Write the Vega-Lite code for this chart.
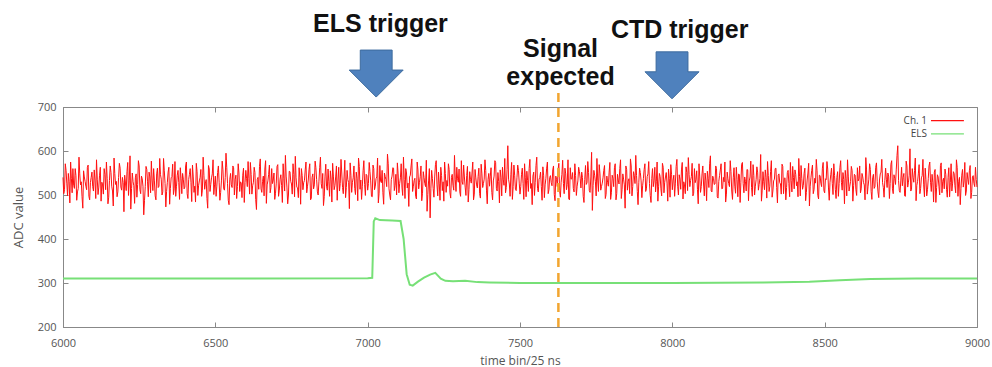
{
  "$schema": "https://vega.github.io/schema/vega-lite/v6.json",
  "autosize": {"type": "none"},
  "padding": {"left": 63, "top": 107, "right": 15, "bottom": 40},
  "width": 914,
  "height": 220,
  "background": "white",
  "config": {
    "view": {"stroke": "#888", "strokeWidth": 1},
    "axis": {
      "grid": false,
      "labelFont": "Open Sans",
      "labelFontSize": 11,
      "labelColor": "#555",
      "titleFont": "Open Sans",
      "titleFontSize": 12,
      "titleFontWeight": "normal",
      "titleColor": "#555",
      "domainColor": "#888",
      "tickColor": "#888",
      "labelFlush": false,
      "labelBound": false,
      "labelOverlap": false
    }
  },
  "resolve": {"axis": {"x": "independent", "y": "independent"}},
  "datasets": {
    "noise": [
      {"t":6000,"v":540},{"t":6005,"v":512},{"t":6010,"v":556},{"t":6015,"v":498},{"t":6020,"v":531},{"t":6025,"v":575},{"t":6030,"v":505},{"t":6035,"v":522},{"t":6040,"v":560},{"t":6045,"v":488},{"t":6050,"v":515},{"t":6055,"v":548},{"t":6060,"v":530},{"t":6065,"v":470},{"t":6070,"v":541},{"t":6075,"v":520},{"t":6080,"v":563},{"t":6085,"v":497},{"t":6090,"v":528},{"t":6095,"v":552},
      {"t":6100,"v":509},{"t":6105,"v":534},{"t":6110,"v":580},{"t":6115,"v":501},{"t":6120,"v":545},{"t":6125,"v":486},{"t":6130,"v":523},{"t":6135,"v":560},{"t":6140,"v":512},{"t":6145,"v":538},{"t":6150,"v":495},{"t":6155,"v":566},{"t":6160,"v":520},{"t":6165,"v":475},{"t":6170,"v":549},{"t":6175,"v":531},{"t":6180,"v":507},{"t":6185,"v":572},{"t":6190,"v":518},{"t":6195,"v":540},
      {"t":6200,"v":462},{"t":6205,"v":527},{"t":6210,"v":553},{"t":6215,"v":499},{"t":6220,"v":589},{"t":6225,"v":515},{"t":6230,"v":530},{"t":6235,"v":481},{"t":6240,"v":548},{"t":6245,"v":524},{"t":6250,"v":566},{"t":6255,"v":503},{"t":6260,"v":537},{"t":6265,"v":455},{"t":6270,"v":519},{"t":6275,"v":558},{"t":6280,"v":496},{"t":6285,"v":541},{"t":6290,"v":577},{"t":6295,"v":510},
      {"t":6300,"v":532},{"t":6305,"v":489},{"t":6310,"v":561},{"t":6315,"v":520},{"t":6320,"v":546},{"t":6325,"v":500},{"t":6330,"v":583},{"t":6335,"v":526},{"t":6340,"v":508},{"t":6345,"v":552},{"t":6350,"v":479},{"t":6355,"v":539},{"t":6360,"v":570},{"t":6365,"v":514},{"t":6370,"v":497},{"t":6375,"v":545},{"t":6380,"v":528},{"t":6385,"v":562},{"t":6390,"v":503},{"t":6395,"v":536},
      {"t":6400,"v":518},{"t":6405,"v":575},{"t":6410,"v":492},{"t":6415,"v":547},{"t":6420,"v":529},{"t":6425,"v":568},{"t":6430,"v":506},{"t":6435,"v":484},{"t":6440,"v":553},{"t":6445,"v":521},{"t":6450,"v":540},{"t":6455,"v":497},{"t":6460,"v":586},{"t":6465,"v":513},{"t":6470,"v":535},{"t":6475,"v":470},{"t":6480,"v":559},{"t":6485,"v":524},{"t":6490,"v":548},{"t":6495,"v":501},
      {"t":6500,"v":543},{"t":6505,"v":520},{"t":6510,"v":566},{"t":6515,"v":488},{"t":6520,"v":532},{"t":6525,"v":557},{"t":6530,"v":511},{"t":6535,"v":595},{"t":6540,"v":526},{"t":6545,"v":478},{"t":6550,"v":549},{"t":6555,"v":517},{"t":6560,"v":562},{"t":6565,"v":535},{"t":6570,"v":492},{"t":6575,"v":571},{"t":6580,"v":508},{"t":6585,"v":527},{"t":6590,"v":545},{"t":6595,"v":483},
      {"t":6600,"v":556},{"t":6605,"v":519},{"t":6610,"v":538},{"t":6615,"v":574},{"t":6620,"v":502},{"t":6625,"v":529},{"t":6630,"v":551},{"t":6635,"v":467},{"t":6640,"v":540},{"t":6645,"v":565},{"t":6650,"v":514},{"t":6655,"v":531},{"t":6660,"v":498},{"t":6665,"v":578},{"t":6670,"v":523},{"t":6675,"v":547},{"t":6680,"v":505},{"t":6685,"v":560},{"t":6690,"v":534},{"t":6695,"v":490},
      {"t":6700,"v":527},{"t":6705,"v":569},{"t":6710,"v":511},{"t":6715,"v":546},{"t":6720,"v":483},{"t":6725,"v":537},{"t":6730,"v":590},{"t":6735,"v":518},{"t":6740,"v":500},{"t":6745,"v":553},{"t":6750,"v":525},{"t":6755,"v":571},{"t":6760,"v":496},{"t":6765,"v":539},{"t":6770,"v":516},{"t":6775,"v":562},{"t":6780,"v":479},{"t":6785,"v":544},{"t":6790,"v":528},{"t":6795,"v":557},
      {"t":6800,"v":505},{"t":6805,"v":534},{"t":6810,"v":571},{"t":6815,"v":492},{"t":6820,"v":548},{"t":6825,"v":523},{"t":6830,"v":562},{"t":6835,"v":507},{"t":6840,"v":530},{"t":6845,"v":586},{"t":6850,"v":515},{"t":6855,"v":476},{"t":6860,"v":543},{"t":6865,"v":520},{"t":6870,"v":559},{"t":6875,"v":497},{"t":6880,"v":536},{"t":6885,"v":572},{"t":6890,"v":512},{"t":6895,"v":541},
      {"t":6900,"v":488},{"t":6905,"v":563},{"t":6910,"v":526},{"t":6915,"v":550},{"t":6920,"v":503},{"t":6925,"v":579},{"t":6930,"v":517},{"t":6935,"v":535},{"t":6940,"v":469},{"t":6945,"v":545},{"t":6950,"v":529},{"t":6955,"v":566},{"t":6960,"v":501},{"t":6965,"v":538},{"t":6970,"v":584},{"t":6975,"v":513},{"t":6980,"v":490},{"t":6985,"v":555},{"t":6990,"v":524},{"t":6995,"v":547},
      {"t":7000,"v":511},{"t":7005,"v":574},{"t":7010,"v":532},{"t":7015,"v":496},{"t":7020,"v":560},{"t":7025,"v":520},{"t":7030,"v":541},{"t":7035,"v":482},{"t":7040,"v":567},{"t":7045,"v":528},{"t":7050,"v":505},{"t":7055,"v":550},{"t":7060,"v":535},{"t":7065,"v":593},{"t":7070,"v":514},{"t":7075,"v":489},{"t":7080,"v":543},{"t":7085,"v":561},{"t":7090,"v":522},{"t":7095,"v":500},
      {"t":7100,"v":548},{"t":7105,"v":526},{"t":7110,"v":571},{"t":7115,"v":499},{"t":7120,"v":535},{"t":7125,"v":560},{"t":7130,"v":516},{"t":7135,"v":474},{"t":7140,"v":545},{"t":7145,"v":582},{"t":7150,"v":520},{"t":7155,"v":538},{"t":7160,"v":491},{"t":7165,"v":557},{"t":7170,"v":529},{"t":7175,"v":566},{"t":7180,"v":504},{"t":7185,"v":540},{"t":7190,"v":519},{"t":7195,"v":463},
      {"t":7200,"v":532},{"t":7205,"v":448},{"t":7210,"v":556},{"t":7215,"v":515},{"t":7220,"v":541},{"t":7225,"v":578},{"t":7230,"v":498},{"t":7235,"v":527},{"t":7240,"v":563},{"t":7245,"v":510},{"t":7250,"v":486},{"t":7255,"v":549},{"t":7260,"v":533},{"t":7265,"v":571},{"t":7270,"v":505},{"t":7275,"v":540},{"t":7280,"v":522},{"t":7285,"v":590},{"t":7290,"v":508},{"t":7295,"v":537},
      {"t":7300,"v":559},{"t":7305,"v":497},{"t":7310,"v":530},{"t":7315,"v":568},{"t":7320,"v":518},{"t":7325,"v":544},{"t":7330,"v":484},{"t":7335,"v":553},{"t":7340,"v":527},{"t":7345,"v":575},{"t":7350,"v":502},{"t":7355,"v":539},{"t":7360,"v":516},{"t":7365,"v":561},{"t":7370,"v":493},{"t":7375,"v":548},{"t":7380,"v":526},{"t":7385,"v":580},{"t":7390,"v":511},{"t":7395,"v":535},
      {"t":7400,"v":520},{"t":7405,"v":562},{"t":7410,"v":489},{"t":7415,"v":543},{"t":7420,"v":574},{"t":7425,"v":509},{"t":7430,"v":531},{"t":7435,"v":557},{"t":7440,"v":498},{"t":7445,"v":536},{"t":7450,"v":583},{"t":7455,"v":517},{"t":7460,"v":612},{"t":7465,"v":525},{"t":7470,"v":546},{"t":7475,"v":490},{"t":7480,"v":568},{"t":7485,"v":513},{"t":7490,"v":539},{"t":7495,"v":556},
      {"t":7500,"v":502},{"t":7505,"v":547},{"t":7510,"v":526},{"t":7515,"v":571},{"t":7520,"v":496},{"t":7525,"v":533},{"t":7530,"v":560},{"t":7535,"v":515},{"t":7540,"v":478},{"t":7545,"v":552},{"t":7550,"v":529},{"t":7555,"v":586},{"t":7560,"v":507},{"t":7565,"v":540},{"t":7570,"v":519},{"t":7575,"v":564},{"t":7580,"v":494},{"t":7585,"v":538},{"t":7590,"v":575},{"t":7595,"v":512},
      {"t":7600,"v":544},{"t":7605,"v":521},{"t":7610,"v":566},{"t":7615,"v":487},{"t":7620,"v":535},{"t":7625,"v":558},{"t":7630,"v":510},{"t":7635,"v":529},{"t":7640,"v":579},{"t":7645,"v":503},{"t":7650,"v":548},{"t":7655,"v":524},{"t":7660,"v":491},{"t":7665,"v":562},{"t":7670,"v":537},{"t":7675,"v":515},{"t":7680,"v":571},{"t":7685,"v":499},{"t":7690,"v":532},{"t":7695,"v":553},
      {"t":7700,"v":516},{"t":7705,"v":540},{"t":7710,"v":483},{"t":7715,"v":567},{"t":7720,"v":528},{"t":7725,"v":551},{"t":7730,"v":506},{"t":7735,"v":597},{"t":7740,"v":522},{"t":7745,"v":545},{"t":7750,"v":498},{"t":7755,"v":534},{"t":7760,"v":569},{"t":7765,"v":511},{"t":7770,"v":527},{"t":7775,"v":556},{"t":7780,"v":492},{"t":7785,"v":543},{"t":7790,"v":520},{"t":7795,"v":574},
      {"t":7800,"v":505},{"t":7805,"v":538},{"t":7810,"v":562},{"t":7815,"v":489},{"t":7820,"v":547},{"t":7825,"v":525},{"t":7830,"v":580},{"t":7835,"v":512},{"t":7840,"v":536},{"t":7845,"v":470},{"t":7850,"v":558},{"t":7855,"v":531},{"t":7860,"v":503},{"t":7865,"v":566},{"t":7870,"v":519},{"t":7875,"v":544},{"t":7880,"v":590},{"t":7885,"v":508},{"t":7890,"v":529},{"t":7895,"v":551},
      {"t":7900,"v":494},{"t":7905,"v":537},{"t":7910,"v":571},{"t":7915,"v":514},{"t":7920,"v":548},{"t":7925,"v":526},{"t":7930,"v":483},{"t":7935,"v":560},{"t":7940,"v":533},{"t":7945,"v":507},{"t":7950,"v":575},{"t":7955,"v":520},{"t":7960,"v":542},{"t":7965,"v":498},{"t":7970,"v":563},{"t":7975,"v":529},{"t":7980,"v":551},{"t":7985,"v":486},{"t":7990,"v":538},{"t":7995,"v":569},
      {"t":8000,"v":512},{"t":8005,"v":545},{"t":8010,"v":527},{"t":8015,"v":581},{"t":8020,"v":500},{"t":8025,"v":536},{"t":8030,"v":557},{"t":8035,"v":491},{"t":8040,"v":523},{"t":8045,"v":564},{"t":8050,"v":510},{"t":8055,"v":547},{"t":8060,"v":533},{"t":8065,"v":572},{"t":8070,"v":504},{"t":8075,"v":528},{"t":8080,"v":555},{"t":8085,"v":480},{"t":8090,"v":541},{"t":8095,"v":519},
      {"t":8100,"v":566},{"t":8105,"v":498},{"t":8110,"v":532},{"t":8115,"v":554},{"t":8120,"v":517},{"t":8125,"v":589},{"t":8130,"v":507},{"t":8135,"v":538},{"t":8140,"v":525},{"t":8145,"v":560},{"t":8150,"v":493},{"t":8155,"v":544},{"t":8160,"v":571},{"t":8165,"v":515},{"t":8170,"v":530},{"t":8175,"v":484},{"t":8180,"v":552},{"t":8185,"v":526},{"t":8190,"v":578},{"t":8195,"v":509},
      {"t":8200,"v":539},{"t":8205,"v":520},{"t":8210,"v":563},{"t":8215,"v":496},{"t":8220,"v":546},{"t":8225,"v":529},{"t":8230,"v":574},{"t":8235,"v":505},{"t":8240,"v":531},{"t":8245,"v":558},{"t":8250,"v":487},{"t":8255,"v":541},{"t":8260,"v":517},{"t":8265,"v":569},{"t":8270,"v":500},{"t":8275,"v":535},{"t":8280,"v":552},{"t":8285,"v":524},{"t":8290,"v":592},{"t":8295,"v":511},
      {"t":8300,"v":530},{"t":8305,"v":557},{"t":8310,"v":493},{"t":8315,"v":544},{"t":8320,"v":520},{"t":8325,"v":578},{"t":8330,"v":509},{"t":8335,"v":536},{"t":8340,"v":561},{"t":8345,"v":482},{"t":8350,"v":548},{"t":8355,"v":525},{"t":8360,"v":570},{"t":8365,"v":503},{"t":8370,"v":539},{"t":8375,"v":517},{"t":8380,"v":556},{"t":8385,"v":496},{"t":8390,"v":533},{"t":8395,"v":565},
      {"t":8400,"v":514},{"t":8405,"v":547},{"t":8410,"v":530},{"t":8415,"v":583},{"t":8420,"v":498},{"t":8425,"v":537},{"t":8430,"v":522},{"t":8435,"v":561},{"t":8440,"v":506},{"t":8445,"v":550},{"t":8450,"v":475},{"t":8455,"v":539},{"t":8460,"v":568},{"t":8465,"v":512},{"t":8470,"v":527},{"t":8475,"v":555},{"t":8480,"v":491},{"t":8485,"v":544},{"t":8490,"v":519},{"t":8495,"v":574},
      {"t":8500,"v":505},{"t":8505,"v":535},{"t":8510,"v":559},{"t":8515,"v":488},{"t":8520,"v":546},{"t":8525,"v":526},{"t":8530,"v":571},{"t":8535,"v":513},{"t":8540,"v":540},{"t":8545,"v":497},{"t":8550,"v":562},{"t":8555,"v":528},{"t":8560,"v":551},{"t":8565,"v":480},{"t":8570,"v":537},{"t":8575,"v":580},{"t":8580,"v":509},{"t":8585,"v":531},{"t":8590,"v":556},{"t":8595,"v":521},
      {"t":8600,"v":545},{"t":8605,"v":499},{"t":8610,"v":532},{"t":8615,"v":566},{"t":8620,"v":514},{"t":8625,"v":541},{"t":8630,"v":523},{"t":8635,"v":585},{"t":8640,"v":502},{"t":8645,"v":536},{"t":8650,"v":558},{"t":8655,"v":490},{"t":8660,"v":547},{"t":8665,"v":519},{"t":8670,"v":573},{"t":8675,"v":507},{"t":8680,"v":534},{"t":8685,"v":552},{"t":8690,"v":528},{"t":8695,"v":495},
      {"t":8700,"v":561},{"t":8705,"v":517},{"t":8710,"v":543},{"t":8715,"v":526},{"t":8720,"v":578},{"t":8725,"v":503},{"t":8730,"v":538},{"t":8735,"v":557},{"t":8740,"v":612},{"t":8745,"v":510},{"t":8750,"v":534},{"t":8755,"v":521},{"t":8760,"v":549},{"t":8765,"v":497},{"t":8770,"v":566},{"t":8775,"v":529},{"t":8780,"v":605},{"t":8785,"v":512},{"t":8790,"v":540},{"t":8795,"v":556},
      {"t":8800,"v":487},{"t":8805,"v":531},{"t":8810,"v":569},{"t":8815,"v":515},{"t":8820,"v":544},{"t":8825,"v":523},{"t":8830,"v":561},{"t":8835,"v":498},{"t":8840,"v":537},{"t":8845,"v":575},{"t":8850,"v":508},{"t":8855,"v":529},{"t":8860,"v":552},{"t":8865,"v":483},{"t":8870,"v":546},{"t":8875,"v":520},{"t":8880,"v":567},{"t":8885,"v":505},{"t":8890,"v":538},{"t":8895,"v":559},
      {"t":8900,"v":513},{"t":8905,"v":540},{"t":8910,"v":496},{"t":8915,"v":571},{"t":8920,"v":527},{"t":8925,"v":549},{"t":8930,"v":505},{"t":8935,"v":562},{"t":8940,"v":531},{"t":8945,"v":478},{"t":8950,"v":545},{"t":8955,"v":518},{"t":8960,"v":574},{"t":8965,"v":509},{"t":8970,"v":536},{"t":8975,"v":555},{"t":8980,"v":492},{"t":8985,"v":541},{"t":8990,"v":526},{"t":8995,"v":563},
      {"t":9000,"v":518},
      {"t":6002.5,"v":503},{"t":6007.5,"v":571},{"t":6012.5,"v":527},{"t":6017.5,"v":549},{"t":6022.5,"v":482},{"t":6027.5,"v":538},{"t":6032.5,"v":560},{"t":6037.5,"v":515},{"t":6042.5,"v":544},{"t":6047.5,"v":507},{"t":6052.5,"v":586},{"t":6057.5,"v":523},{"t":6062.5,"v":496},{"t":6067.5,"v":555},{"t":6072.5,"v":531},{"t":6077.5,"v":512},{"t":6082.5,"v":568},{"t":6087.5,"v":489},{"t":6092.5,"v":540},{"t":6097.5,"v":519},
      {"t":6102.5,"v":557},{"t":6107.5,"v":492},{"t":6112.5,"v":536},{"t":6117.5,"v":518},{"t":6122.5,"v":563},{"t":6127.5,"v":529},{"t":6132.5,"v":502},{"t":6137.5,"v":547},{"t":6142.5,"v":575},{"t":6147.5,"v":480},{"t":6152.5,"v":533},{"t":6157.5,"v":551},{"t":6162.5,"v":509},{"t":6167.5,"v":584},{"t":6172.5,"v":524},{"t":6177.5,"v":496},{"t":6182.5,"v":540},{"t":6187.5,"v":561},{"t":6192.5,"v":511},{"t":6197.5,"v":528},
      {"t":6202.5,"v":545},{"t":6207.5,"v":510},{"t":6212.5,"v":574},{"t":6217.5,"v":532},{"t":6222.5,"v":468},{"t":6227.5,"v":550},{"t":6232.5,"v":521},{"t":6237.5,"v":539},{"t":6242.5,"v":495},{"t":6247.5,"v":578},{"t":6252.5,"v":512},{"t":6257.5,"v":543},{"t":6262.5,"v":520},{"t":6267.5,"v":487},{"t":6272.5,"v":565},{"t":6277.5,"v":530},{"t":6282.5,"v":552},{"t":6287.5,"v":505},{"t":6292.5,"v":534},{"t":6297.5,"v":560},
      {"t":6302.5,"v":498},{"t":6307.5,"v":548},{"t":6312.5,"v":517},{"t":6317.5,"v":583},{"t":6322.5,"v":536},{"t":6327.5,"v":507},{"t":6332.5,"v":555},{"t":6337.5,"v":473},{"t":6342.5,"v":529},{"t":6347.5,"v":563},{"t":6352.5,"v":515},{"t":6357.5,"v":542},{"t":6362.5,"v":501},{"t":6367.5,"v":576},{"t":6372.5,"v":520},{"t":6377.5,"v":556},{"t":6382.5,"v":490},{"t":6387.5,"v":538},{"t":6392.5,"v":549},{"t":6397.5,"v":514},
      {"t":6402.5,"v":566},{"t":6407.5,"v":503},{"t":6412.5,"v":535},{"t":6417.5,"v":560},{"t":6422.5,"v":485},{"t":6427.5,"v":541},{"t":6432.5,"v":520},{"t":6437.5,"v":572},{"t":6442.5,"v":499},{"t":6447.5,"v":532},{"t":6452.5,"v":558},{"t":6457.5,"v":511},{"t":6462.5,"v":545},{"t":6467.5,"v":527},{"t":6472.5,"v":492},{"t":6477.5,"v":567},{"t":6482.5,"v":508},{"t":6487.5,"v":539},{"t":6492.5,"v":580},{"t":6497.5,"v":523},
      {"t":6502.5,"v":497},{"t":6507.5,"v":551},{"t":6512.5,"v":529},{"t":6517.5,"v":506},{"t":6522.5,"v":577},{"t":6527.5,"v":514},{"t":6532.5,"v":540},{"t":6537.5,"v":562},{"t":6542.5,"v":488},{"t":6547.5,"v":536},{"t":6552.5,"v":523},{"t":6557.5,"v":566},{"t":6562.5,"v":500},{"t":6567.5,"v":545},{"t":6572.5,"v":519},{"t":6577.5,"v":550},{"t":6582.5,"v":530},{"t":6587.5,"v":494},{"t":6592.5,"v":561},{"t":6597.5,"v":528},
      {"t":6602.5,"v":538},{"t":6607.5,"v":576},{"t":6612.5,"v":502},{"t":6617.5,"v":547},{"t":6622.5,"v":521},{"t":6627.5,"v":563},{"t":6632.5,"v":490},{"t":6637.5,"v":535},{"t":6642.5,"v":513},{"t":6647.5,"v":582},{"t":6652.5,"v":506},{"t":6657.5,"v":543},{"t":6662.5,"v":559},{"t":6667.5,"v":481},{"t":6672.5,"v":532},{"t":6677.5,"v":568},{"t":6682.5,"v":517},{"t":6687.5,"v":526},{"t":6692.5,"v":550},{"t":6697.5,"v":504},
      {"t":6702.5,"v":565},{"t":6707.5,"v":497},{"t":6712.5,"v":536},{"t":6717.5,"v":522},{"t":6722.5,"v":571},{"t":6727.5,"v":509},{"t":6732.5,"v":543},{"t":6737.5,"v":480},{"t":6742.5,"v":554},{"t":6747.5,"v":531},{"t":6752.5,"v":502},{"t":6757.5,"v":547},{"t":6762.5,"v":588},{"t":6767.5,"v":518},{"t":6772.5,"v":494},{"t":6777.5,"v":539},{"t":6782.5,"v":560},{"t":6787.5,"v":512},{"t":6792.5,"v":533},{"t":6797.5,"v":575},
      {"t":6802.5,"v":520},{"t":6807.5,"v":558},{"t":6812.5,"v":489},{"t":6817.5,"v":540},{"t":6822.5,"v":514},{"t":6827.5,"v":577},{"t":6832.5,"v":535},{"t":6837.5,"v":500},{"t":6842.5,"v":562},{"t":6847.5,"v":526},{"t":6852.5,"v":549},{"t":6857.5,"v":497},{"t":6862.5,"v":570},{"t":6867.5,"v":511},{"t":6872.5,"v":530},{"t":6877.5,"v":555},{"t":6882.5,"v":484},{"t":6887.5,"v":543},{"t":6892.5,"v":521},{"t":6897.5,"v":566},
      {"t":6902.5,"v":532},{"t":6907.5,"v":509},{"t":6912.5,"v":581},{"t":6917.5,"v":517},{"t":6922.5,"v":541},{"t":6927.5,"v":494},{"t":6932.5,"v":556},{"t":6937.5,"v":528},{"t":6942.5,"v":573},{"t":6947.5,"v":506},{"t":6952.5,"v":539},{"t":6957.5,"v":515},{"t":6962.5,"v":552},{"t":6967.5,"v":487},{"t":6972.5,"v":565},{"t":6977.5,"v":534},{"t":6982.5,"v":520},{"t":6987.5,"v":578},{"t":6992.5,"v":499},{"t":6997.5,"v":544},
      {"t":7002.5,"v":526},{"t":7007.5,"v":553},{"t":7012.5,"v":497},{"t":7017.5,"v":568},{"t":7022.5,"v":512},{"t":7027.5,"v":537},{"t":7032.5,"v":584},{"t":7037.5,"v":504},{"t":7042.5,"v":531},{"t":7047.5,"v":556},{"t":7052.5,"v":479},{"t":7057.5,"v":542},{"t":7062.5,"v":519},{"t":7067.5,"v":571},{"t":7072.5,"v":500},{"t":7077.5,"v":535},{"t":7082.5,"v":562},{"t":7087.5,"v":510},{"t":7092.5,"v":547},{"t":7097.5,"v":573},
      {"t":7102.5,"v":505},{"t":7107.5,"v":539},{"t":7112.5,"v":518},{"t":7117.5,"v":586},{"t":7122.5,"v":492},{"t":7127.5,"v":550},{"t":7132.5,"v":527},{"t":7137.5,"v":541},{"t":7142.5,"v":566},{"t":7147.5,"v":508},{"t":7152.5,"v":533},{"t":7157.5,"v":497},{"t":7162.5,"v":575},{"t":7167.5,"v":514},{"t":7172.5,"v":542},{"t":7177.5,"v":487},{"t":7182.5,"v":553},{"t":7187.5,"v":526},{"t":7192.5,"v":579},{"t":7197.5,"v":501},
      {"t":7202.5,"v":560},{"t":7207.5,"v":514},{"t":7212.5,"v":537},{"t":7217.5,"v":495},{"t":7222.5,"v":569},{"t":7227.5,"v":523},{"t":7232.5,"v":552},{"t":7237.5,"v":488},{"t":7242.5,"v":544},{"t":7247.5,"v":530},{"t":7252.5,"v":575},{"t":7257.5,"v":506},{"t":7262.5,"v":520},{"t":7267.5,"v":558},{"t":7272.5,"v":493},{"t":7277.5,"v":547},{"t":7282.5,"v":511},{"t":7287.5,"v":536},{"t":7292.5,"v":563},{"t":7297.5,"v":529},
      {"t":7302.5,"v":507},{"t":7307.5,"v":578},{"t":7312.5,"v":524},{"t":7317.5,"v":541},{"t":7322.5,"v":499},{"t":7327.5,"v":565},{"t":7332.5,"v":512},{"t":7337.5,"v":535},{"t":7342.5,"v":550},{"t":7347.5,"v":489},{"t":7352.5,"v":558},{"t":7357.5,"v":523},{"t":7362.5,"v":542},{"t":7367.5,"v":503},{"t":7372.5,"v":570},{"t":7377.5,"v":517},{"t":7382.5,"v":536},{"t":7387.5,"v":556},{"t":7392.5,"v":480},{"t":7397.5,"v":549},
      {"t":7402.5,"v":543},{"t":7407.5,"v":506},{"t":7412.5,"v":532},{"t":7417.5,"v":578},{"t":7422.5,"v":515},{"t":7427.5,"v":551},{"t":7432.5,"v":482},{"t":7437.5,"v":540},{"t":7442.5,"v":563},{"t":7447.5,"v":522},{"t":7452.5,"v":505},{"t":7457.5,"v":558},{"t":7462.5,"v":536},{"t":7467.5,"v":497},{"t":7472.5,"v":574},{"t":7477.5,"v":519},{"t":7482.5,"v":545},{"t":7487.5,"v":510},{"t":7492.5,"v":568},{"t":7497.5,"v":527},
      {"t":7502.5,"v":519},{"t":7507.5,"v":561},{"t":7512.5,"v":490},{"t":7517.5,"v":539},{"t":7522.5,"v":554},{"t":7527.5,"v":508},{"t":7532.5,"v":581},{"t":7537.5,"v":526},{"t":7542.5,"v":543},{"t":7547.5,"v":499},{"t":7552.5,"v":567},{"t":7557.5,"v":515},{"t":7562.5,"v":536},{"t":7567.5,"v":552},{"t":7572.5,"v":488},{"t":7577.5,"v":545},{"t":7582.5,"v":523},{"t":7587.5,"v":561},{"t":7592.5,"v":503},{"t":7597.5,"v":540},
      {"t":7602.5,"v":528},{"t":7607.5,"v":557},{"t":7612.5,"v":501},{"t":7617.5,"v":543},{"t":7622.5,"v":519},{"t":7627.5,"v":572},{"t":7632.5,"v":495},{"t":7637.5,"v":547},{"t":7642.5,"v":526},{"t":7647.5,"v":561},{"t":7652.5,"v":512},{"t":7657.5,"v":580},{"t":7662.5,"v":489},{"t":7667.5,"v":536},{"t":7672.5,"v":551},{"t":7677.5,"v":507},{"t":7682.5,"v":544},{"t":7687.5,"v":520},{"t":7692.5,"v":563},{"t":7697.5,"v":538},
      {"t":7702.5,"v":552},{"t":7707.5,"v":497},{"t":7712.5,"v":535},{"t":7717.5,"v":524},{"t":7722.5,"v":576},{"t":7727.5,"v":510},{"t":7732.5,"v":541},{"t":7737.5,"v":465},{"t":7742.5,"v":556},{"t":7747.5,"v":530},{"t":7752.5,"v":583},{"t":7757.5,"v":508},{"t":7762.5,"v":548},{"t":7767.5,"v":519},{"t":7772.5,"v":539},{"t":7777.5,"v":567},{"t":7782.5,"v":501},{"t":7787.5,"v":529},{"t":7792.5,"v":552},{"t":7797.5,"v":490},
      {"t":7802.5,"v":545},{"t":7807.5,"v":519},{"t":7812.5,"v":571},{"t":7817.5,"v":503},{"t":7822.5,"v":534},{"t":7827.5,"v":560},{"t":7832.5,"v":492},{"t":7837.5,"v":548},{"t":7842.5,"v":523},{"t":7847.5,"v":566},{"t":7852.5,"v":511},{"t":7857.5,"v":537},{"t":7862.5,"v":582},{"t":7867.5,"v":498},{"t":7872.5,"v":553},{"t":7877.5,"v":526},{"t":7882.5,"v":544},{"t":7887.5,"v":478},{"t":7892.5,"v":561},{"t":7897.5,"v":532},
      {"t":7902.5,"v":521},{"t":7907.5,"v":558},{"t":7912.5,"v":508},{"t":7917.5,"v":542},{"t":7922.5,"v":576},{"t":7927.5,"v":499},{"t":7932.5,"v":537},{"t":7937.5,"v":519},{"t":7942.5,"v":563},{"t":7947.5,"v":530},{"t":7952.5,"v":486},{"t":7957.5,"v":549},{"t":7962.5,"v":514},{"t":7967.5,"v":572},{"t":7972.5,"v":505},{"t":7977.5,"v":541},{"t":7982.5,"v":527},{"t":7987.5,"v":559},{"t":7992.5,"v":495},{"t":7997.5,"v":546},
      {"t":8002.5,"v":534},{"t":8007.5,"v":497},{"t":8012.5,"v":565},{"t":8017.5,"v":520},{"t":8022.5,"v":546},{"t":8027.5,"v":513},{"t":8032.5,"v":574},{"t":8037.5,"v":530},{"t":8042.5,"v":503},{"t":8047.5,"v":551},{"t":8052.5,"v":585},{"t":8057.5,"v":519},{"t":8062.5,"v":542},{"t":8067.5,"v":498},{"t":8072.5,"v":560},{"t":8077.5,"v":535},{"t":8082.5,"v":512},{"t":8087.5,"v":571},{"t":8092.5,"v":506},{"t":8097.5,"v":548},
      {"t":8102.5,"v":525},{"t":8107.5,"v":550},{"t":8112.5,"v":487},{"t":8117.5,"v":538},{"t":8122.5,"v":571},{"t":8127.5,"v":509},{"t":8132.5,"v":543},{"t":8137.5,"v":524},{"t":8142.5,"v":566},{"t":8147.5,"v":496},{"t":8152.5,"v":531},{"t":8157.5,"v":557},{"t":8162.5,"v":514},{"t":8167.5,"v":540},{"t":8172.5,"v":575},{"t":8177.5,"v":502},{"t":8182.5,"v":537},{"t":8187.5,"v":519},{"t":8192.5,"v":553},{"t":8197.5,"v":490},
      {"t":8202.5,"v":562},{"t":8207.5,"v":504},{"t":8212.5,"v":535},{"t":8217.5,"v":548},{"t":8222.5,"v":483},{"t":8227.5,"v":570},{"t":8232.5,"v":526},{"t":8237.5,"v":541},{"t":8242.5,"v":509},{"t":8247.5,"v":557},{"t":8252.5,"v":532},{"t":8257.5,"v":577},{"t":8262.5,"v":497},{"t":8267.5,"v":544},{"t":8272.5,"v":520},{"t":8277.5,"v":564},{"t":8282.5,"v":511},{"t":8287.5,"v":538},{"t":8292.5,"v":486},{"t":8297.5,"v":553},
      {"t":8302.5,"v":512},{"t":8307.5,"v":540},{"t":8312.5,"v":576},{"t":8317.5,"v":508},{"t":8322.5,"v":553},{"t":8327.5,"v":495},{"t":8332.5,"v":532},{"t":8337.5,"v":560},{"t":8342.5,"v":517},{"t":8347.5,"v":545},{"t":8352.5,"v":528},{"t":8357.5,"v":502},{"t":8362.5,"v":565},{"t":8367.5,"v":538},{"t":8372.5,"v":489},{"t":8377.5,"v":551},{"t":8382.5,"v":526},{"t":8387.5,"v":574},{"t":8392.5,"v":507},{"t":8397.5,"v":540},
      {"t":8402.5,"v":557},{"t":8407.5,"v":521},{"t":8412.5,"v":496},{"t":8417.5,"v":542},{"t":8422.5,"v":567},{"t":8427.5,"v":513},{"t":8432.5,"v":549},{"t":8437.5,"v":487},{"t":8442.5,"v":534},{"t":8447.5,"v":572},{"t":8452.5,"v":520},{"t":8457.5,"v":556},{"t":8462.5,"v":503},{"t":8467.5,"v":538},{"t":8472.5,"v":581},{"t":8477.5,"v":499},{"t":8482.5,"v":545},{"t":8487.5,"v":527},{"t":8492.5,"v":561},{"t":8497.5,"v":510},
      {"t":8502.5,"v":537},{"t":8507.5,"v":576},{"t":8512.5,"v":516},{"t":8517.5,"v":529},{"t":8522.5,"v":561},{"t":8527.5,"v":501},{"t":8532.5,"v":544},{"t":8537.5,"v":492},{"t":8542.5,"v":553},{"t":8547.5,"v":526},{"t":8552.5,"v":578},{"t":8557.5,"v":511},{"t":8562.5,"v":535},{"t":8567.5,"v":556},{"t":8572.5,"v":498},{"t":8577.5,"v":543},{"t":8582.5,"v":520},{"t":8587.5,"v":565},{"t":8592.5,"v":486},{"t":8597.5,"v":547},
      {"t":8602.5,"v":512},{"t":8607.5,"v":562},{"t":8612.5,"v":537},{"t":8617.5,"v":505},{"t":8622.5,"v":549},{"t":8627.5,"v":528},{"t":8632.5,"v":489},{"t":8637.5,"v":557},{"t":8642.5,"v":520},{"t":8647.5,"v":571},{"t":8652.5,"v":508},{"t":8657.5,"v":539},{"t":8662.5,"v":515},{"t":8667.5,"v":563},{"t":8672.5,"v":530},{"t":8677.5,"v":494},{"t":8682.5,"v":548},{"t":8687.5,"v":581},{"t":8692.5,"v":517},{"t":8697.5,"v":533},
      {"t":8702.5,"v":536},{"t":8707.5,"v":550},{"t":8712.5,"v":492},{"t":8717.5,"v":570},{"t":8722.5,"v":514},{"t":8727.5,"v":546},{"t":8732.5,"v":524},{"t":8737.5,"v":590},{"t":8742.5,"v":533},{"t":8747.5,"v":506},{"t":8752.5,"v":563},{"t":8757.5,"v":540},{"t":8762.5,"v":498},{"t":8767.5,"v":577},{"t":8772.5,"v":518},{"t":8777.5,"v":545},{"t":8782.5,"v":509},{"t":8787.5,"v":560},{"t":8792.5,"v":529},{"t":8797.5,"v":584},
      {"t":8802.5,"v":522},{"t":8807.5,"v":548},{"t":8812.5,"v":503},{"t":8817.5,"v":539},{"t":8822.5,"v":581},{"t":8827.5,"v":496},{"t":8832.5,"v":535},{"t":8837.5,"v":512},{"t":8842.5,"v":566},{"t":8847.5,"v":529},{"t":8852.5,"v":547},{"t":8857.5,"v":484},{"t":8862.5,"v":558},{"t":8867.5,"v":517},{"t":8872.5,"v":541},{"t":8877.5,"v":500},{"t":8882.5,"v":573},{"t":8887.5,"v":531},{"t":8892.5,"v":514},{"t":8897.5,"v":547},
      {"t":8902.5,"v":495},{"t":8907.5,"v":562},{"t":8912.5,"v":528},{"t":8917.5,"v":509},{"t":8922.5,"v":553},{"t":8927.5,"v":521},{"t":8932.5,"v":580},{"t":8937.5,"v":497},{"t":8942.5,"v":540},{"t":8947.5,"v":515},{"t":8952.5,"v":558},{"t":8957.5,"v":532},{"t":8962.5,"v":499},{"t":8967.5,"v":551},{"t":8972.5,"v":524},{"t":8977.5,"v":567},{"t":8982.5,"v":506},{"t":8987.5,"v":544},{"t":8992.5,"v":519},{"t":8997.5,"v":535}
    ],
    "els": [
      {"t":6000,"v":310},{"t":6500,"v":310},{"t":7000,"v":311},{"t":7015,"v":312},{"t":7020,"v":440},{"t":7025,"v":447},{"t":7040,"v":443},{"t":7080,"v":442},{"t":7108,"v":441},{"t":7118,"v":400},{"t":7128,"v":320},{"t":7138,"v":296},{"t":7148,"v":294},{"t":7165,"v":303},{"t":7185,"v":312},{"t":7205,"v":319},{"t":7222,"v":323},{"t":7240,"v":310},{"t":7255,"v":305},{"t":7280,"v":304},{"t":7320,"v":305},{"t":7360,"v":302},{"t":7400,"v":301},{"t":7500,"v":300},{"t":7700,"v":300},{"t":8000,"v":300},{"t":8300,"v":301},{"t":8450,"v":303},{"t":8550,"v":306},{"t":8650,"v":309},{"t":8800,"v":310},{"t":9000,"v":310}
    ],
    "marker": [{"t":7626,"y0":200,"y1":732}],
    "arrows": [{"name":"ELS","t":7028,"y":776},{"name":"CTD","t":7999,"y":772}],
    "notes": [
      {"label":"ELS trigger","t":7042,"y":889},
      {"label":"CTD trigger","t":8024,"y":875},
      {"label":"Signal","t":7633,"y":832},
      {"label":"expected","t":7633,"y":768}
    ],
    "legend": [
      {"series":"Ch. 1","t0":8849,"t1":8957,"y":669},
      {"series":"ELS","t0":8849,"t1":8957,"y":639}
    ]
  },
  "layer": [
    {
      "data": {"name": "noise"},
      "mark": {"type": "line", "strokeWidth": 1},
      "encoding": {
        "x": {"field": "t", "type": "quantitative", "scale": {"domain": [6000, 9000], "nice": false}, "axis": {"title": "time bin/25 ns", "format": "d", "values": [6000,6500,7000,7500,8000,8500,9000], "tickSize": -5, "labelPadding": 15, "titlePadding": 7}},
        "y": {"field": "v", "type": "quantitative", "scale": {"domain": [200, 700], "nice": false, "zero": false}, "axis": {"title": "ADC value", "titleFontSize": 13, "format": "d", "values": [200,300,400,500,600,700], "tickSize": -5, "labelPadding": 12, "titlePadding": 12}},
        "color": {"datum": "Ch. 1", "scale": {"domain": ["Ch. 1", "ELS"], "range": ["#ff1010", "#77e077"]}, "legend": null}
      }
    },
    {
      "data": {"name": "els"},
      "mark": {"type": "line", "strokeWidth": 2},
      "encoding": {
        "x": {"field": "t", "type": "quantitative", "axis": null},
        "y": {"field": "v", "type": "quantitative", "axis": null},
        "color": {"datum": "ELS", "legend": null}
      }
    },
    {
      "data": {"name": "els"},
      "mark": {"type": "rule", "opacity": 0},
      "encoding": {
        "x": {"field": "t", "type": "quantitative", "axis": {"orient": "top", "labels": false, "title": null, "domain": false, "tickSize": -5, "values": [6000,6500,7000,7500,8000,8500,9000]}},
        "y": {"field": "v", "type": "quantitative", "axis": {"orient": "right", "labels": false, "title": null, "domain": false, "tickSize": -5, "values": [200,300,400,500,600,700]}}
      }
    },
    {
      "data": {"name": "marker"},
      "mark": {"type": "rule", "color": "#f2a530", "strokeWidth": 2.5, "strokeDash": [9, 6]},
      "encoding": {
        "x": {"field": "t", "type": "quantitative", "axis": null},
        "y": {"field": "y0", "type": "quantitative", "axis": null},
        "y2": {"field": "y1"}
      }
    },
    {
      "data": {"name": "arrows"},
      "mark": {"type": "point", "shape": "M-0.59,-0.87L0.59,-0.87L0.59,-0.13L1,-0.13L0,0.87L-1,-0.13L-0.59,-0.13Z", "filled": true, "fill": "#4f81bd", "stroke": "#3d6b9e", "strokeWidth": 1, "opacity": 1, "size": 2916},
      "encoding": {
        "x": {"field": "t", "type": "quantitative", "axis": null},
        "y": {"field": "y", "type": "quantitative", "axis": null}
      }
    },
    {
      "data": {"name": "notes"},
      "mark": {"type": "text", "font": "Liberation Sans", "fontSize": 25, "fontWeight": "bold", "color": "#111", "baseline": "middle", "align": "center"},
      "encoding": {
        "x": {"field": "t", "type": "quantitative", "axis": null},
        "y": {"field": "y", "type": "quantitative", "axis": null},
        "text": {"field": "label"}
      }
    },
    {
      "data": {"name": "legend"},
      "mark": {"type": "rule", "strokeWidth": 1.2},
      "encoding": {
        "x": {"field": "t0", "type": "quantitative", "axis": null},
        "x2": {"field": "t1"},
        "y": {"field": "y", "type": "quantitative", "axis": null},
        "color": {"field": "series", "type": "nominal", "legend": null}
      }
    },
    {
      "data": {"name": "legend"},
      "mark": {"type": "text", "font": "Open Sans", "fontSize": 10, "color": "#444", "align": "right", "baseline": "middle", "dx": -4},
      "encoding": {
        "x": {"field": "t0", "type": "quantitative", "axis": null},
        "y": {"field": "y", "type": "quantitative", "axis": null},
        "text": {"field": "series"}
      }
    }
  ]
}
